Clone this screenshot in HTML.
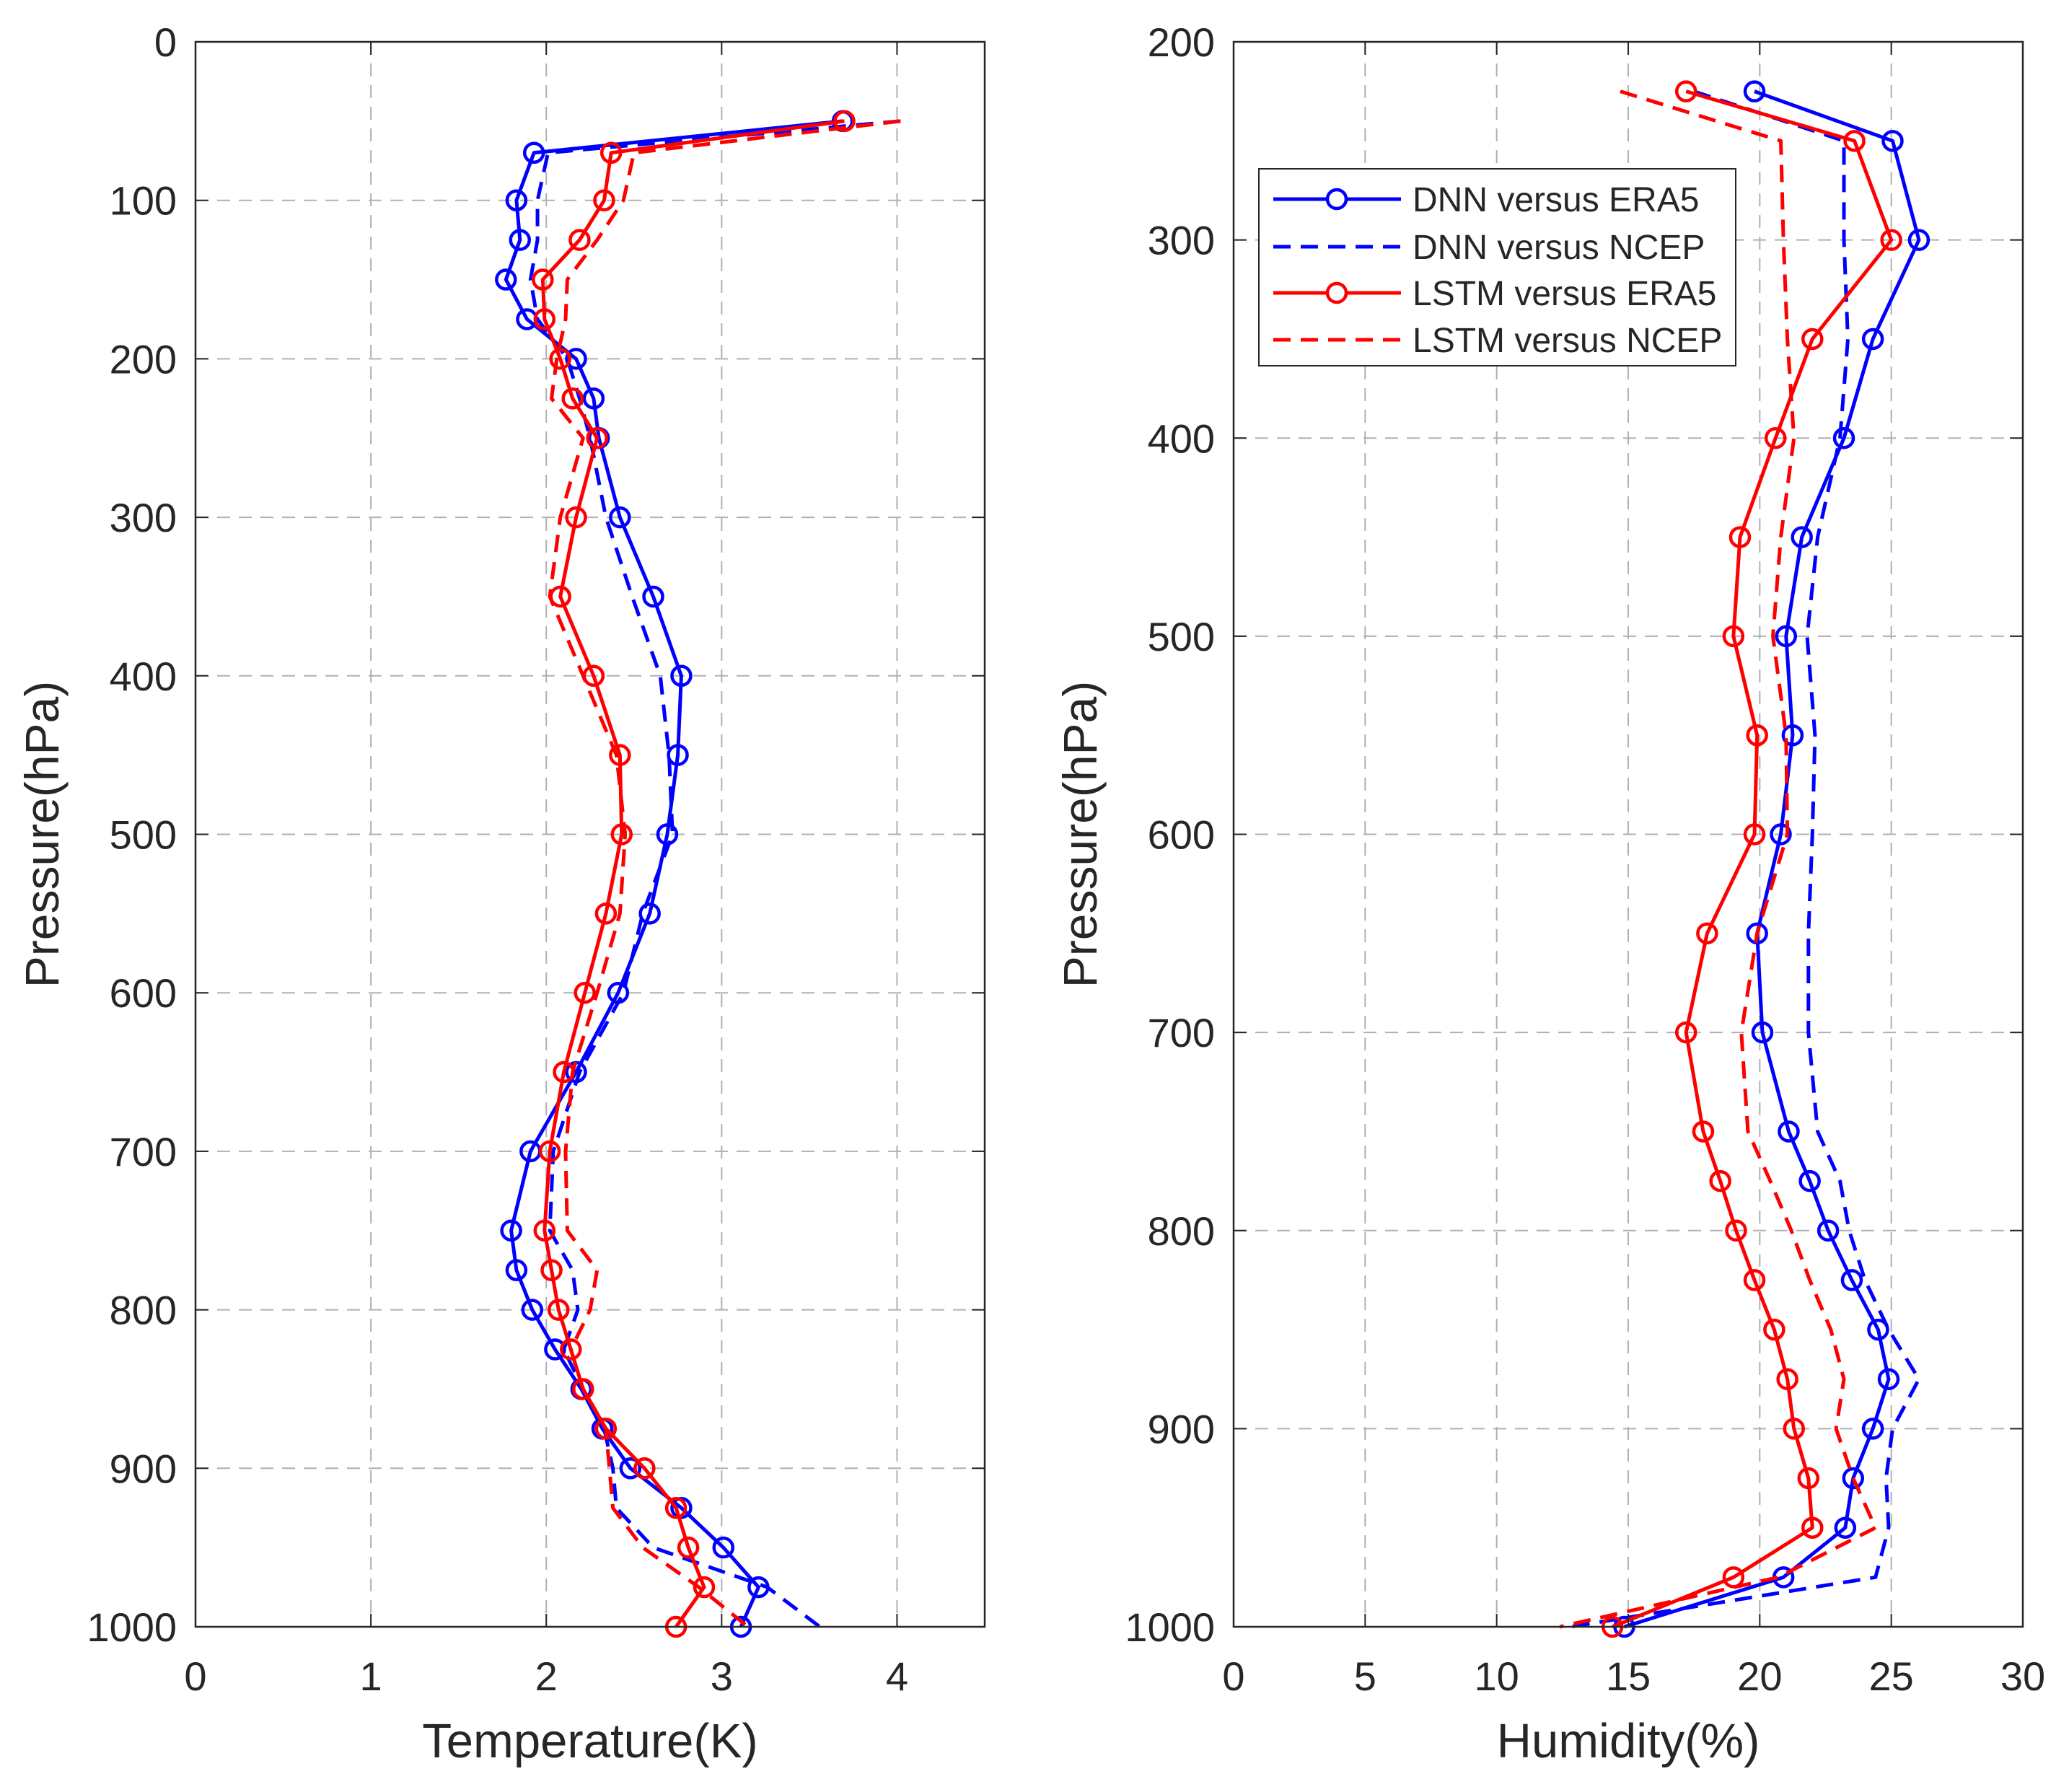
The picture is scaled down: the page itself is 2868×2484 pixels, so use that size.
<!DOCTYPE html>
<html><head><meta charset="utf-8"><style>
html,body{margin:0;padding:0;background:#fff}
svg{display:block}
text{font-family:"Liberation Sans",Arial,sans-serif;fill:#262626}
</style></head><body>
<svg id="fig" width="2868" height="2484" viewBox="0 0 2868 2484" xmlns="http://www.w3.org/2000/svg">
<g id="left"></g>
<g id="right"></g>
</svg>
<script>
const tLevels=[50,70,100,125,150,175,200,225,250,300,350,400,450,500,550,600,650,700,750,775,800,825,850,875,900,925,950,975,1000];
const tDnnEra5=[3.69,1.93,1.83,1.85,1.77,1.89,2.17,2.27,2.30,2.42,2.61,2.77,2.75,2.69,2.59,2.41,2.17,1.91,1.80,1.83,1.92,2.05,2.20,2.32,2.48,2.77,3.01,3.21,3.11];
const tDnnNcep=[4.02,2.01,1.95,1.95,1.91,1.95,2.12,2.19,2.25,2.34,2.49,2.65,2.70,2.72,2.55,2.44,2.19,2.04,2.02,2.15,2.18,2.10,2.21,2.33,2.38,2.40,2.61,3.26,3.56];
const tLstmEra5=[3.70,2.37,2.33,2.19,1.98,1.99,2.08,2.15,2.29,2.17,2.08,2.27,2.42,2.43,2.34,2.22,2.10,2.02,1.99,2.03,2.07,2.14,2.21,2.34,2.56,2.74,2.81,2.90,2.74];
const tLstmNcep=[4.02,2.50,2.44,2.29,2.12,2.11,2.06,2.03,2.21,2.08,2.02,2.21,2.40,2.45,2.42,2.29,2.15,2.11,2.12,2.29,2.25,2.14,2.21,2.34,2.36,2.38,2.55,2.87,3.15];
const hLevels=[225,250,300,350,400,450,500,550,600,650,700,750,775,800,825,850,875,900,925,950,975,1000];
const hDnnEra5=[19.8,25.05,26.05,24.3,23.2,21.6,21.0,21.25,20.8,19.9,20.1,21.1,21.9,22.6,23.5,24.5,24.9,24.3,23.55,23.25,20.9,14.85];
const hDnnNcep=[17.5,23.2,23.2,23.35,23.05,22.2,21.8,22.1,22.0,21.85,21.85,22.2,23.05,23.4,24.0,24.9,26.05,25.05,24.8,24.9,24.4,12.8];
const hLstmEra5=[17.2,23.6,25.0,22.0,20.6,19.25,19.0,19.9,19.8,18.0,17.2,17.85,18.5,19.1,19.8,20.55,21.05,21.3,21.85,22.0,19.0,14.4];
const hLstmNcep=[14.7,20.8,20.9,21.05,21.3,20.8,20.5,21.0,21.05,19.9,19.3,19.55,20.4,21.2,21.9,22.7,23.2,22.9,23.55,24.4,20.7,12.4];
const tXTicks=[0,1,2,3,4];
const tYTicks=[0,100,200,300,400,500,600,700,800,900,1000];
const hXTicks=[0,5,10,15,20,25,30];
const hYTicks=[200,300,400,500,600,700,800,900,1000];
const NS='http://www.w3.org/2000/svg';
function mk(p,tag,attrs){const e=document.createElementNS(NS,tag);for(const k in attrs)e.setAttribute(k,attrs[k]);p.appendChild(e);return e;}
function panel(g,box,xd,yd,xt,yt,xlabel,series,levels,legend){
  const [L,T,R,B]=box;
  const sx=v=>L+(v-xd[0])/(xd[1]-xd[0])*(R-L);
  const sy=v=>T+(v-yd[0])/(yd[1]-yd[0])*(B-T);
  const grid=mk(g,'g',{});
  
  
  xt.forEach(v=>{const x=sx(v);mk(grid,'line',{x1:x,y1:T,x2:x,y2:B,stroke:'#b0b0b0','stroke-width':2,'stroke-dasharray':'18 12'});});
  yt.forEach(v=>{const y=sy(v);mk(grid,'line',{x1:L,y1:y,x2:R,y2:y,stroke:'#b0b0b0','stroke-width':2,'stroke-dasharray':'18 12'});});
  series.forEach(s=>{
    const sg=mk(g,'g',{});
    
    
    const pts=s.data.map((v,i)=>sx(v)+','+sy(levels[i])).join(' ');
    const pl=mk(sg,'polyline',{points:pts,fill:'none',stroke:s.color,'stroke-width':5,'stroke-linejoin':'round'});
    if(s.dash)pl.setAttribute('stroke-dasharray','24 14');
    if(s.marker){s.data.forEach((v,i)=>{const c=mk(sg,'circle',{cx:sx(v),cy:sy(levels[i]),r:13,fill:'none',stroke:s.color,'stroke-width':4.5});
      
      });}
  });
  const ax=mk(g,'g',{});
  
  
  mk(ax,'rect',{x:L,y:T,width:R-L,height:B-T,fill:'none',stroke:'#262626','stroke-width':2.5});
  xt.forEach(v=>{const x=sx(v);mk(ax,'line',{x1:x,y1:B,x2:x,y2:B-18,stroke:'#262626','stroke-width':2});mk(ax,'line',{x1:x,y1:T,x2:x,y2:T+18,stroke:'#262626','stroke-width':2});
    const t=mk(ax,'text',{x:x,y:B+88,'font-size':56,'text-anchor':'middle'});t.textContent=v;
    
    });
  yt.forEach(v=>{const y=sy(v);mk(ax,'line',{x1:L,y1:y,x2:L+18,y2:y,stroke:'#262626','stroke-width':2});mk(ax,'line',{x1:R,y1:y,x2:R-18,y2:y,stroke:'#262626','stroke-width':2});
    const t=mk(ax,'text',{x:L-26,y:y+20,'font-size':56,'text-anchor':'end'});t.textContent=v;
    
    });
  const xl=mk(g,'text',{x:(L+R)/2,y:2436,'font-size':67,'text-anchor':'middle'});xl.textContent=xlabel;
  
  
  const yx=L-190, yy=(T+B)/2;
  const yl=mk(g,'text',{x:yx,y:yy,'font-size':66,'text-anchor':'middle',transform:`rotate(-90 ${yx} ${yy})`});yl.textContent='Pressure(hPa)';
  
  
  if(legend){
    const lg=mk(g,'g',{});
    
    
    mk(lg,'rect',{x:1745,y:234,width:661,height:273,fill:'#fff',stroke:'#262626','stroke-width':2});
    const ys=[276,342,406,471];
    series.forEach((s,i)=>{
      const e=mk(lg,'g',{});
      
      
      const ln=mk(e,'line',{x1:1765,y1:ys[i],x2:1942,y2:ys[i],stroke:s.color,'stroke-width':5});
      if(s.dash)ln.setAttribute('stroke-dasharray','24 14');
      if(s.marker)mk(e,'circle',{cx:1853,cy:ys[i],r:13,fill:'#fff',stroke:s.color,'stroke-width':4.5});
      const t=mk(e,'text',{x:1958,y:ys[i]+17,'font-size':48});t.textContent=s.label;
    });
  }
}
const tSeries=[
 {name:'dnn-era5-line',label:'DNN versus ERA5',data:tDnnEra5,color:'#0000ff',dash:false,marker:true},
 {name:'dnn-ncep-line',label:'DNN versus NCEP',data:tDnnNcep,color:'#0000ff',dash:true,marker:false},
 {name:'lstm-era5-line',label:'LSTM versus ERA5',data:tLstmEra5,color:'#ff0000',dash:false,marker:true},
 {name:'lstm-ncep-line',label:'LSTM versus NCEP',data:tLstmNcep,color:'#ff0000',dash:true,marker:false}];
const hSeries=[
 {name:'dnn-era5-line',label:'DNN versus ERA5',data:hDnnEra5,color:'#0000ff',dash:false,marker:true},
 {name:'dnn-ncep-line',label:'DNN versus NCEP',data:hDnnNcep,color:'#0000ff',dash:true,marker:false},
 {name:'lstm-era5-line',label:'LSTM versus ERA5',data:hLstmEra5,color:'#ff0000',dash:false,marker:true},
 {name:'lstm-ncep-line',label:'LSTM versus NCEP',data:hLstmNcep,color:'#ff0000',dash:true,marker:false}];
panel(document.getElementById('left'),[271,58,1365,2255],[0,4.5],[0,1000],tXTicks,tYTicks,'Temperature(K)',tSeries,tLevels,false);
panel(document.getElementById('right'),[1710,58,2804,2255],[0,30],[200,1000],hXTicks,hYTicks,'Humidity(%)',hSeries,hLevels,true);
</script>
</body></html>
